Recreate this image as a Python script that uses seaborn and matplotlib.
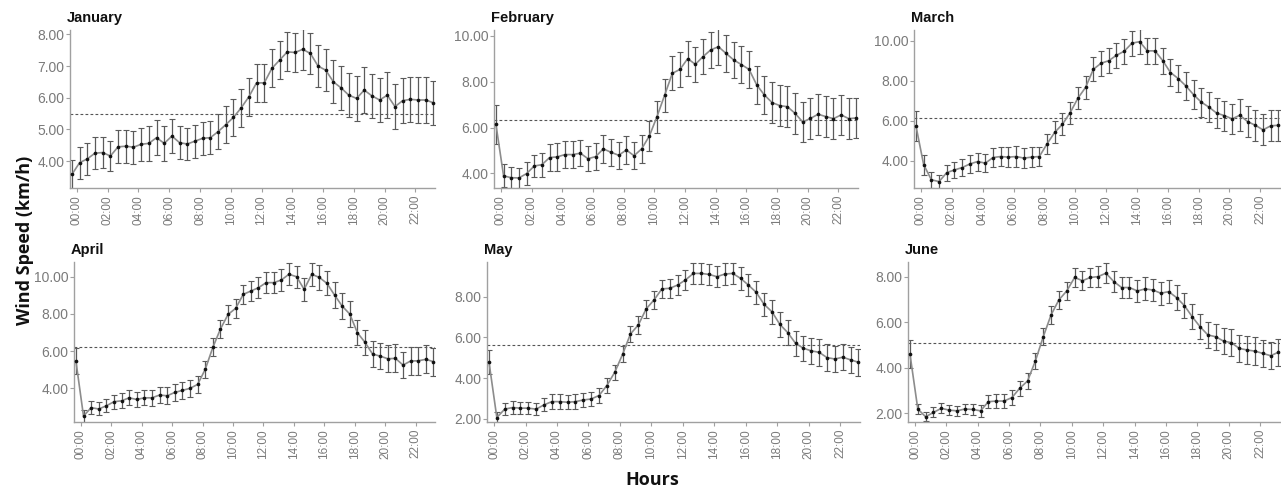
import numpy as np
import pandas as pd
import matplotlib
matplotlib.use("Agg")
import matplotlib.pyplot as plt
import seaborn as sns

# Half-hourly mean wind speed (km/h) with error-bar half widths, per month
months = ["January", "February", "March", "April", "May", "June"]

jan_mean = [3.58, 3.95, 4.07, 4.25, 4.27, 4.16, 4.45, 4.47, 4.44, 4.53,
            4.56, 4.74, 4.56, 4.79, 4.58, 4.54, 4.63, 4.72, 4.74, 4.93,
            5.15, 5.38, 5.68, 6.03, 6.47, 6.47, 6.93, 7.19, 7.45, 7.43,
            7.53, 7.40, 7.00, 6.87, 6.50, 6.31, 6.08, 5.98, 6.24, 6.06,
            5.93, 6.08, 5.72, 5.91, 5.95, 5.93, 5.93, 5.84]
jan_err = [0.45, 0.50, 0.50, 0.50, 0.50, 0.48, 0.52, 0.52, 0.52, 0.52,
           0.55, 0.55, 0.55, 0.55, 0.52, 0.50, 0.52, 0.52, 0.52, 0.55,
           0.58, 0.58, 0.60, 0.60, 0.60, 0.60, 0.60, 0.60, 0.62, 0.62,
           0.65, 0.65, 0.66, 0.66, 0.68, 0.70, 0.70, 0.70, 0.72, 0.70,
           0.70, 0.72, 0.70, 0.72, 0.72, 0.72, 0.72, 0.70]

feb_mean = [6.14, 3.89, 3.81, 3.80, 3.99, 4.32, 4.38, 4.69, 4.72, 4.82,
            4.82, 4.88, 4.64, 4.73, 5.07, 4.92, 4.79, 5.02, 4.77, 5.07,
            5.63, 6.48, 7.42, 8.37, 8.54, 9.01, 8.76, 9.10, 9.39, 9.53,
            9.24, 8.95, 8.75, 8.54, 7.86, 7.42, 7.09, 6.96, 6.91, 6.62,
            6.24, 6.40, 6.58, 6.48, 6.39, 6.55, 6.39, 6.42]
feb_err = [0.85, 0.50, 0.45, 0.45, 0.50, 0.50, 0.52, 0.58, 0.60, 0.60,
           0.58, 0.58, 0.55, 0.60, 0.60, 0.60, 0.60, 0.62, 0.60, 0.62,
           0.65, 0.70, 0.72, 0.75, 0.78, 0.78, 0.75, 0.75, 0.80, 0.80,
           0.80, 0.80, 0.82, 0.82, 0.82, 0.85, 0.90, 0.90, 0.90, 0.90,
           0.88, 0.90, 0.90, 0.90, 0.88, 0.88, 0.88, 0.88]

mar_mean = [5.75, 3.82, 3.06, 2.97, 3.42, 3.55, 3.67, 3.85, 3.97, 3.89,
            4.17, 4.22, 4.19, 4.22, 4.14, 4.19, 4.22, 4.85, 5.43, 5.83,
            6.41, 7.13, 7.67, 8.57, 8.87, 9.00, 9.27, 9.47, 9.87, 9.95,
            9.49, 9.49, 9.00, 8.41, 8.11, 7.74, 7.30, 6.93, 6.68, 6.38,
            6.26, 6.10, 6.28, 5.96, 5.78, 5.55, 5.75, 5.78]
mar_err = [0.75, 0.50, 0.40, 0.35, 0.40, 0.42, 0.42, 0.45, 0.45, 0.45,
           0.45, 0.48, 0.50, 0.50, 0.50, 0.48, 0.48, 0.50, 0.55, 0.55,
           0.55, 0.55, 0.58, 0.60, 0.62, 0.62, 0.62, 0.62, 0.62, 0.62,
           0.65, 0.65, 0.65, 0.68, 0.68, 0.70, 0.72, 0.72, 0.75, 0.75,
           0.75, 0.75, 0.80, 0.78, 0.78, 0.78, 0.78, 0.78]

apr_mean = [5.47, 2.51, 2.96, 2.89, 3.06, 3.28, 3.33, 3.49, 3.40, 3.49,
            3.49, 3.64, 3.60, 3.78, 3.89, 4.00, 4.21, 5.02, 6.20, 7.19,
            7.97, 8.30, 9.05, 9.23, 9.41, 9.68, 9.68, 9.82, 10.13, 10.00,
            9.32, 10.13, 9.96, 9.64, 9.01, 8.42, 7.99, 6.99, 6.47, 5.84,
            5.73, 5.59, 5.61, 5.25, 5.47, 5.48, 5.56, 5.43]
apr_err = [0.70, 0.35, 0.35, 0.35, 0.35, 0.38, 0.40, 0.40, 0.40, 0.40,
           0.42, 0.45, 0.45, 0.45, 0.45, 0.45, 0.45, 0.45, 0.48, 0.50,
           0.52, 0.52, 0.52, 0.55, 0.55, 0.55, 0.55, 0.58, 0.58, 0.60,
           0.60, 0.62, 0.65, 0.65, 0.68, 0.68, 0.68, 0.68, 0.68, 0.70,
           0.70, 0.72, 0.75, 0.72, 0.75, 0.75, 0.75, 0.75]

may_mean = [4.80, 2.07, 2.48, 2.56, 2.53, 2.53, 2.48, 2.69, 2.85, 2.85,
            2.82, 2.85, 2.93, 2.98, 3.15, 3.64, 4.29, 5.17, 6.17, 6.61,
            7.40, 7.84, 8.38, 8.41, 8.57, 8.82, 9.14, 9.14, 9.09, 8.98,
            9.11, 9.14, 8.90, 8.57, 8.21, 7.62, 7.26, 6.64, 6.24, 5.71,
            5.47, 5.34, 5.27, 5.01, 4.94, 5.03, 4.90, 4.78]
may_err = [0.60, 0.25, 0.28, 0.30, 0.30, 0.30, 0.30, 0.32, 0.35, 0.35,
           0.35, 0.35, 0.35, 0.35, 0.35, 0.35, 0.38, 0.40, 0.40, 0.42,
           0.45, 0.45, 0.45, 0.48, 0.48, 0.50, 0.50, 0.50, 0.50, 0.52,
           0.52, 0.52, 0.55, 0.55, 0.58, 0.58, 0.60, 0.60, 0.60, 0.62,
           0.62, 0.62, 0.65, 0.65, 0.65, 0.65, 0.65, 0.65]

jun_mean = [4.60, 2.19, 1.85, 2.04, 2.22, 2.14, 2.11, 2.19, 2.17, 2.11,
            2.51, 2.54, 2.54, 2.69, 3.10, 3.42, 4.30, 5.36, 6.32, 6.98,
            7.37, 7.96, 7.82, 7.96, 8.00, 8.15, 7.78, 7.52, 7.52, 7.37,
            7.46, 7.41, 7.27, 7.34, 7.08, 6.73, 6.24, 5.80, 5.44, 5.36,
            5.17, 5.10, 4.85, 4.78, 4.73, 4.63, 4.53, 4.68]
jun_err = [0.60, 0.22, 0.20, 0.22, 0.22, 0.22, 0.22, 0.22, 0.25, 0.25,
           0.28, 0.30, 0.30, 0.32, 0.32, 0.35, 0.35, 0.38, 0.40, 0.40,
           0.40, 0.40, 0.42, 0.42, 0.45, 0.45, 0.45, 0.45, 0.45, 0.48,
           0.50, 0.50, 0.50, 0.52, 0.55, 0.55, 0.55, 0.55, 0.58, 0.58,
           0.58, 0.60, 0.60, 0.60, 0.60, 0.60, 0.60, 0.60]

monthly_avg = [5.50, 6.33, 6.15, 6.22, 5.62, 5.10]

hour_labels = ["00:00", "02:00", "04:00", "06:00", "08:00", "10:00",
               "12:00", "14:00", "16:00", "18:00", "20:00", "22:00"]

means = [jan_mean, feb_mean, mar_mean, apr_mean, may_mean, jun_mean]
errs = [jan_err, feb_err, mar_err, apr_err, may_err, jun_err]

# Panel layout in pixels: (left, right, top, bottom) and y-limits
W, H = 1281, 493
boxes = [(70, 435, 30, 188), (494, 858, 30, 188), (914, 1280, 30, 188),
         (74, 435, 262, 422), (487, 860, 262, 422), (908, 1280, 262, 422)]
ylims = [(3.15, 8.14), (3.36, 10.26), (2.65, 10.53),
         (2.19, 10.79), (1.85, 9.70), (1.62, 8.64)]
yticks = [[4, 5, 6, 7, 8], [4, 6, 8, 10], [4, 6, 8, 10],
          [4, 6, 8, 10], [2, 4, 6, 8], [2, 4, 6, 8]]

sns.set_theme(style="white")
plt.rcParams["font.family"] = ["Liberation Sans", "DejaVu Sans"]

fig = plt.figure(figsize=(W / 100, H / 100), dpi=100)
fig.patch.set_facecolor("white")

slot = np.arange(48)
tick_pos = np.arange(12) * 4 + 0.65
tick_grey = "#7a7a7a"

for i, month in enumerate(months):
    l, r, t, b = boxes[i]
    ax = fig.add_axes([l / W, 1 - b / H, (r - l) / W, (b - t) / H])
    df = pd.DataFrame({"slot": slot, "speed": means[i], "err": errs[i]})

    ax.axhline(monthly_avg[i], color="#555555", lw=0.8,
               linestyle=(0, (2.5, 2)), zorder=1)
    ax.errorbar(df["slot"], df["speed"], yerr=df["err"], fmt="none",
                ecolor="#5a5a5a", elinewidth=0.9, capsize=2, capthick=0.8,
                zorder=2)
    sns.lineplot(data=df, x="slot", y="speed", ax=ax, color="#8c8c8c",
                 lw=1.2, zorder=3)
    sns.scatterplot(data=df, x="slot", y="speed", ax=ax, color="#111111",
                    s=7, linewidth=0, zorder=4)

    ax.set_xlim(-0.25, 47.2)
    ax.set_ylim(*ylims[i])
    ax.set_yticks(yticks[i])
    ax.set_yticklabels([f"{v:.2f}" for v in yticks[i]])
    ax.set_xticks(tick_pos)
    ax.set_xticklabels(hour_labels, rotation=90)
    ax.set_xlabel("")
    ax.set_ylabel("")

    for side in ["top", "right"]:
        ax.spines[side].set_visible(False)
    for side in ["left", "bottom"]:
        ax.spines[side].set_color("#a0a0a0")
        ax.spines[side].set_linewidth(1.0)
    ax.tick_params(axis="y", length=3, width=0.8, color="#a0a0a0",
                   labelsize=10, labelcolor=tick_grey, pad=1)
    ax.tick_params(axis="x", length=3, width=0.8, color="#a0a0a0",
                   labelsize=8.5, labelcolor=tick_grey, pad=2)
    ax.tick_params(left=True, bottom=True)

    fig.text((l - 3) / W, 1 - (t - 12) / H, month, fontsize=10.5,
             fontweight="bold", color="#111111", ha="left", va="center")

fig.text(25 / W, 1 - 240 / H, "Wind Speed (km/h)", rotation=90,
         fontsize=13, fontweight="bold", family=["Open Sans", "DejaVu Sans"],
         ha="center", va="center", color="#111111")
fig.text(652 / W, 1 - 480 / H, "Hours", fontsize=13, fontweight="bold",
         family=["Open Sans", "DejaVu Sans"], ha="center", va="center",
         color="#111111")

fig.savefig("out.png", dpi=100, facecolor="white")
